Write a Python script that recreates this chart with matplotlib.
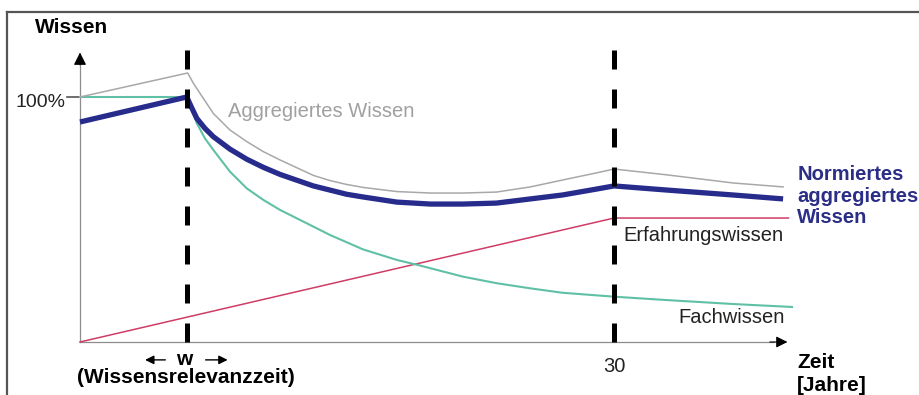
import matplotlib
matplotlib.use('Agg')
import matplotlib.pyplot as plt
from matplotlib.lines import Line2D

plt.rcParams['font.family'] = ['Liberation Sans', 'DejaVu Sans']

# Zeit [Jahre] / Wissen [%]
w_jahre = 6
t_ende = 30

agg_x = [0, 6.05, 6.37, 6.74, 7.49, 8.43, 9.37, 10.3, 11.24, 13.11, 14.04, 14.98, 15.9, 17.8, 19.7, 21.5, 23.4, 25.3, 27.1, 29.0, 30, 33.0, 36.7, 39.5]
agg_y = [100, 109.8, 105.6, 101.5, 93.3, 86.5, 81.8, 77.7, 74.3, 68.0, 65.9, 64.3, 63.1, 61.4, 60.8, 60.8, 61.2, 63.3, 66.1, 69.0, 70.6, 68.2, 64.9, 63.3]

norm_x = [0, 6, 6.25, 6.56, 7.02, 7.49, 8.43, 9.37, 10.3, 11.24, 13.11, 14.98, 15.9, 17.8, 19.7, 21.5, 23.4, 25.3, 27.1, 29.0, 30, 33.0, 36.7, 39.5]
norm_y = [89.8, 100, 96.0, 91.3, 87.2, 83.8, 78.7, 74.6, 71.3, 68.4, 63.7, 60.3, 59.2, 57.1, 56.3, 56.3, 56.7, 58.4, 60.0, 62.4, 63.7, 62.0, 60.0, 58.4]

fach_x = [0, 6, 6.3, 6.56, 7.02, 7.49, 8.43, 9.37, 10.3, 11.24, 13.11, 14.04, 15.9, 17.8, 19.0, 21.5, 23.4, 25.3, 27.1, 30, 33.0, 36.7, 40]
fach_y = [100, 100, 94.5, 89.3, 83.1, 78.4, 69.5, 62.7, 58.0, 53.9, 47.1, 43.7, 37.8, 33.5, 31.4, 26.7, 24.0, 21.9, 20.1, 18.5, 17.1, 15.5, 14.3]

erf_x = [0, 30, 39.8]
erf_y = [0, 50.6, 50.6]

fig = plt.figure(figsize=(9.2, 3.95), dpi=100)
ax = fig.add_axes([0, 0, 1, 1])
ax.set_xlim(-80 / 17.8, 840 / 17.8)
ax.set_ylim(-53 / 2.45, 342 / 2.45)
ax.axis('off')

# Rahmen
fig.add_artist(Line2D([7 / 920, 7 / 920], [0, 383 / 395], color='#555555', lw=1.6, transform=fig.transFigure))
fig.add_artist(Line2D([7 / 920, 1], [383 / 395, 383 / 395], color='#555555', lw=1.6, transform=fig.transFigure))

# Achsen
axis_col = '#8c8c8c'
ax.plot([0, 0], [0, 113], color=axis_col, lw=0.9)
ax.plot([0, 39], [0, 0], color=axis_col, lw=0.9)
ax.plot([-0.75, 0], [100, 100], color='#555555', lw=1.2)
ax.annotate('', xy=(0, 119.3), xytext=(0, 112), arrowprops=dict(arrowstyle='-|>', color='black', lw=0.8, mutation_scale=19))
ax.annotate('', xy=(39.9, 0), xytext=(38.6, 0), arrowprops=dict(arrowstyle='-|>', color='black', lw=0.8, mutation_scale=17))

# Kurven
ax.plot(erf_x, erf_y, color='#cf3d66', lw=1.1)
ax.plot(fach_x, fach_y, color='#5fc0a6', lw=1.5)
ax.plot(agg_x, agg_y, color='#a8a8a8', lw=1.1)
ax.plot(norm_x, norm_y, color='#262b8c', lw=3.8, solid_capstyle='butt', solid_joinstyle='round')

# gestrichelte Linien
for xv in [w_jahre, t_ende]:
    ax.plot([xv, xv], [119.2, 0], color='black', lw=3.6, linestyle=(0, (3.8, 4.0)), zorder=5)

# Beschriftung
ax.text(-2.53, 126.1, 'Wissen', fontsize=15, fontweight='bold', va='baseline', ha='left')
ax.text(-0.8, 95.9, '100%', fontsize=14, va='baseline', ha='right', color='#222222')
ax.text(8.31, 91.8, 'Aggregiertes Wissen', fontsize=14.5, va='baseline', color='#a0a0a0')
ax.text(30.5, 41.3, 'Erfahrungswissen', fontsize=14.5, va='baseline', color='#222222')
ax.text(33.6, 7.9, 'Fachwissen', fontsize=14.5, va='baseline', color='#222222')
navy = '#2b2e86'
ax.text(40.3, 66.1, 'Normiertes', fontsize=14.5, fontweight='bold', va='baseline', color=navy)
ax.text(40.3, 57.1, 'aggregiertes', fontsize=14.5, fontweight='bold', va='baseline', color=navy)
ax.text(40.3, 48.6, 'Wissen', fontsize=14.5, fontweight='bold', va='baseline', color=navy)
ax.text(30, -12.2, '30', fontsize=14.5, va='baseline', ha='center', color='#222222')
ax.text(40.3, -10.6, 'Zeit', fontsize=15, fontweight='bold', va='baseline')
ax.text(40.3, -20.0, '[Jahre]', fontsize=15, fontweight='bold', va='baseline')
ax.text(5.84, -9.4, 'w', fontsize=15, fontweight='bold', va='baseline', ha='center')
ax.annotate('', xy=(3.5, -7.3), xytext=(4.95, -7.3), arrowprops=dict(arrowstyle='-|>', color='black', lw=1.0, mutation_scale=13))
ax.annotate('', xy=(8.45, -7.3), xytext=(6.9, -7.3), arrowprops=dict(arrowstyle='-|>', color='black', lw=1.0, mutation_scale=13))
ax.text(-0.17, -16.7, '(Wissensrelevanzzeit)', fontsize=15, fontweight='bold', va='baseline', ha='left')

fig.savefig('out.png', dpi=100)
